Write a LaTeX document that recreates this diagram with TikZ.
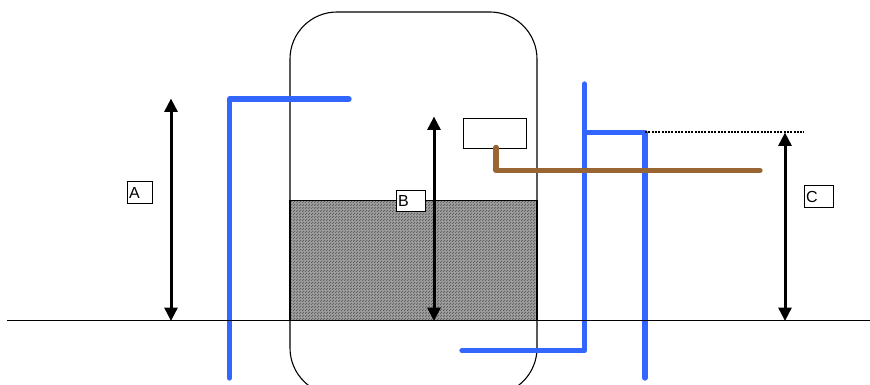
\documentclass[tikz,border=0pt]{standalone}
\usepackage{fontspec}
\setmainfont{Liberation Sans}
\usetikzlibrary{arrows.meta,patterns}
\definecolor{pipeblue}{HTML}{3366FF}
\definecolor{pipebrown}{HTML}{996633}
\pgfdeclarepatternformonly{finedither}{\pgfpointorigin}{\pgfpoint{2.5pt}{2.5pt}}{\pgfpoint{2.5pt}{2.5pt}}{%
  \pgfpathrectangle{\pgfpoint{0pt}{0pt}}{\pgfpoint{1.25pt}{1.25pt}}%
  \pgfpathrectangle{\pgfpoint{1.25pt}{1.25pt}}{\pgfpoint{1.25pt}{1.25pt}}%
  \pgfusepath{fill}}
\tikzset{
  vesselbox/.style={draw=black,line width=1.1pt,fill=none,rounded corners=47pt,inner sep=0pt,minimum width=247pt,minimum height=383pt},
  liquidbase/.style={fill=black!38,draw=none,inner sep=0pt,minimum width=247pt,minimum height=120pt},
  liquid/.style={draw=black,line width=1.1pt,pattern=finedither,pattern color=black!62,inner sep=0pt,minimum width=247pt,minimum height=120pt},
  labelbox/.style={draw=black,line width=0.9pt,fill=white,inner sep=0pt,font=\fontsize{16}{18}\selectfont,text depth=0pt,align=left},
  sensorbox/.style={draw=black,line width=0.9pt,fill=white,inner sep=0pt,minimum width=63pt,minimum height=30pt},
  pipe/.style={draw=pipeblue,line width=5.3pt,line cap=round,line join=round},
  cablepipe/.style={draw=pipebrown,line width=5.3pt,line cap=round,line join=round},
  dimarrow/.style={draw=black,line width=3pt,{Triangle[length=13.5pt,width=13pt]}-{Triangle[length=13.5pt,width=13pt]},shorten <=-0.5pt,shorten >=-0.5pt},
  groundline/.style={draw=black,line width=1.1pt},
  levelline/.style={draw=black,line width=2pt,dash pattern=on 2pt off 1.3pt}
}
\begin{document}
\begin{tikzpicture}[x=1pt,y=-1pt]
\useasboundingbox (0,0) rectangle (870,385);
\clip (0,0) rectangle (870,385);
\fill[white] (0,0) rectangle (870,385);
% coordinates
\coordinate (gL) at (7,320.5);
\coordinate (gR) at (870,320.5);
\coordinate (aT) at (171,99);
\coordinate (aB) at (171,320.5);
\coordinate (bT) at (434,117);
\coordinate (bB) at (434,320.5);
\coordinate (cT) at (785,133);
\coordinate (cB) at (785,320.5);
\coordinate (p1a) at (229.5,378);
\coordinate (p1b) at (229.5,99);
\coordinate (p1c) at (349,99);
\coordinate (p2a) at (584.5,84);
\coordinate (p2b) at (584.5,350.5);
\coordinate (p2c) at (462,350.5);
\coordinate (p3a) at (584.5,132.5);
\coordinate (p3b) at (645,132.5);
\coordinate (p3c) at (645,378);
\coordinate (lvl) at (804,132.5);
\coordinate (w1) at (496,170.5);
\coordinate (w2) at (760,170.5);
% shapes
\node[liquidbase] (liqbase) at (413.5,260.5) {};
\node[liquid] (liq) at (413.5,260.5) {};
\node[vesselbox] (vessel) at (413.5,203.5) {};
\node[sensorbox] (sensor) at (494.5,133) {};
% pipes
\draw[pipe] (p1a) -- (p1b) -- (p1c);
\draw[pipe] (p2a) -- (p2b) -- (p2c);
\draw[pipe] (p3a) -- (p3b) -- (p3c);
\draw[cablepipe] (sensor.south -| 496,0) ++(0,-1) -- (w1) -- (w2);
% dimensions
\draw[levelline] (p3b) -- (lvl);
\draw[dimarrow] (aT) -- (aB);
\draw[dimarrow] (bT) -- (bB);
\draw[dimarrow] (cT) -- (cB);
\draw[groundline] (gL) -- (gR);
% labels
\node[labelbox,minimum width=25pt,minimum height=22pt,text width=21pt,inner xsep=2pt] (lA) at (139.5,192.5) {\raisebox{-1pt}{A}};
\node[labelbox,minimum width=29pt,minimum height=21pt,text width=25pt,inner xsep=2pt] (lB) at (410.5,200.5) {\raisebox{-1pt}{B}};
\node[labelbox,minimum width=29pt,minimum height=22pt,text width=25pt,inner xsep=2pt] (lC) at (818.5,196) {\raisebox{-1pt}{C}};
\end{tikzpicture}
\end{document}
